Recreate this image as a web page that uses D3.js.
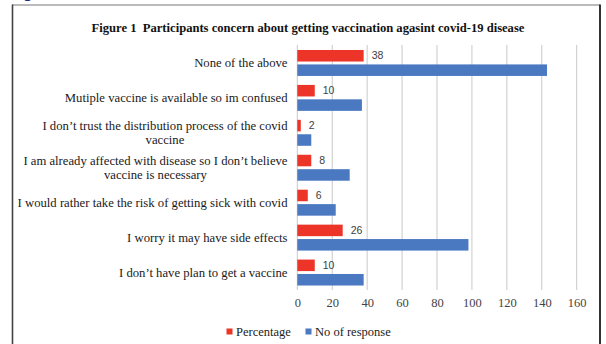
<!DOCTYPE html>
<html>
<head>
<meta charset="utf-8">
<script src="https://cdn.jsdelivr.net/npm/d3@7"></script>
<style>
html,body{margin:0;padding:0;background:#fff;}
svg{display:block;}
.pre{white-space:pre;}
</style>
</head>
<body>
<svg id="chart" width="606" height="344"></svg>
<script>
const categories = [
  ["None of the above"],
  ["Mutiple vaccine is available so im confused"],
  ["I don\u2019t trust the distribution process of the covid", "vaccine"],
  ["I am already affected with disease so I don\u2019t believe", "vaccine is necessary"],
  ["I would rather take the risk of getting sick with covid"],
  ["I worry it may have side effects"],
  ["I don\u2019t have plan to get a vaccine"]
];
const percentage = [38, 10, 2, 8, 6, 26, 10];
const responses = [143, 37, 8, 30, 22, 98, 38];
const seriesNames = ["Percentage", "No of response"];
const xTicks = [0, 20, 40, 60, 80, 100, 120, 140, 160];
const title = "Figure 1  Participants concern about getting vaccination agasint covid-19 disease";

const colors = ["#EC3528", "#4A79C1"];
const svg = d3.select("#chart");

// frame
svg.append("text").attr("x", 23).attr("y", -2).attr("font-family", "Liberation Sans, Arial, sans-serif")
  .attr("font-weight", "bold").attr("font-size", 15).attr("fill", "#1f2a8a").text("g");
svg.append("line").attr("x1", 12).attr("x2", 600).attr("y1", 5).attr("y2", 5).attr("stroke", "#777").attr("stroke-width", 1);
svg.append("line").attr("x1", 12.5).attr("x2", 12.5).attr("y1", 4.5).attr("y2", 344).attr("stroke", "#444").attr("stroke-width", 1.6);
svg.append("line").attr("x1", 600).attr("x2", 600).attr("y1", 4.5).attr("y2", 344).attr("stroke", "#333").attr("stroke-width", 2);

// title
svg.append("text").attr("class", "pre").attr("x", 308).attr("y", 31.5).attr("text-anchor", "middle")
  .attr("font-family", "Liberation Serif, Times New Roman, serif").attr("font-weight", "bold")
  .attr("font-size", 12.6).attr("fill", "#111").text(title);

const x = d3.scaleLinear().domain([0, 160]).range([297.3, 576.7]);
const idx = d3.range(categories.length);
const y = d3.scaleBand().domain(idx).range([45.5, 290]).paddingInner(0.257).paddingOuter(0.1285);
const ys = d3.scaleBand().domain([0, 1]).range([0, y.bandwidth()]).paddingInner(0.2);

// grid
const g = svg.append("g");
g.selectAll("line.grid").data(xTicks).join("line")
  .attr("x1", d => x(d)).attr("x2", d => x(d))
  .attr("y1", 45).attr("y2", 290)
  .attr("stroke", "#c9c9c9").attr("stroke-width", 1);

// x axis labels
const xAxis = d3.axisBottom(x).tickValues(xTicks).tickSize(0).tickPadding(0);
const ax = svg.append("g").attr("transform", "translate(0,298)").call(xAxis);
ax.select(".domain").remove();
ax.selectAll("text").attr("font-family", "Liberation Serif, Times New Roman, serif")
  .attr("font-size", 12.5).attr("fill", "#444").attr("dy", "0.71em");

// bars
const groups = svg.append("g").selectAll("g").data(idx).join("g")
  .attr("transform", i => `translate(0,${y(i)})`);
groups.append("rect").attr("x", x(0)).attr("y", ys(0))
  .attr("width", i => x(percentage[i]) - x(0)).attr("height", ys.bandwidth())
  .attr("fill", colors[0]);
groups.append("rect").attr("x", x(0)).attr("y", ys(1))
  .attr("width", i => x(responses[i]) - x(0)).attr("height", ys.bandwidth())
  .attr("fill", colors[1]);
groups.append("text").attr("x", i => x(percentage[i]) + 8).attr("y", ys(0) + ys.bandwidth() / 2)
  .attr("dy", "0.35em").attr("font-family", "Liberation Sans, Arial, sans-serif")
  .attr("font-size", 10.5).attr("fill", "#404040").text(i => percentage[i]);

// category labels
const labels = svg.append("g").selectAll("text").data(idx).join("text")
  .attr("text-anchor", "end").attr("font-family", "Liberation Serif, Times New Roman, serif")
  .attr("font-size", 12.7).attr("fill", "#1a1a1a");
labels.each(function(i) {
  const lines = categories[i];
  const cy = y(i) + y.bandwidth() / 2;
  const lh = 14;
  const t = d3.select(this);
  lines.forEach((ln, k) => {
    const off = (k - (lines.length - 1) / 2) * lh;
    t.append("tspan").attr("x", lines.length > 1 && k > 0 ? null : 287.5)
      .attr("y", cy + off).attr("dy", "0.35em").text(ln);
  });
});
// center second lines under first line
labels.each(function(i) {
  const lines = categories[i];
  if (lines.length < 2) return;
  const tsp = d3.select(this).selectAll("tspan").nodes();
  const w0 = tsp[0].getComputedTextLength();
  const mid = 287.5 - w0 / 2;
  d3.select(tsp[1]).attr("x", mid).attr("text-anchor", "middle");
});

// legend
const leg = svg.append("g").attr("font-family", "Liberation Serif, Times New Roman, serif").attr("font-size", 12.5).attr("fill", "#222");
const legX = [226.5, 305.5];
seriesNames.forEach((s, k) => {
  leg.append("rect").attr("x", legX[k]).attr("y", 328.5).attr("width", 6).attr("height", 6).attr("fill", colors[k]);
  leg.append("text").attr("x", legX[k] + 9.5).attr("y", 336).text(s);
});
</script>
</body>
</html>
